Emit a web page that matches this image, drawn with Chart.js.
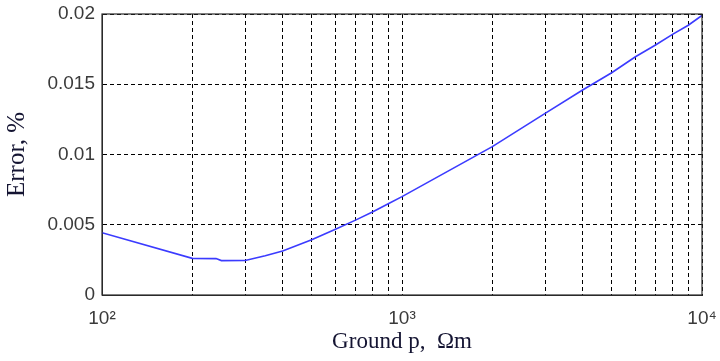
<!DOCTYPE html>
<html>
<head>
<meta charset="utf-8">
<script src="https://cdn.jsdelivr.net/npm/chart.js@4/dist/chart.umd.min.js"></script>
<style>
html,body{margin:0;padding:0;background:#fff;}
#wrap{width:720px;height:361px;position:relative;}
</style>
</head>
<body>
<div id="wrap"><canvas id="c" width="720" height="361"></canvas></div>
<script>
// Data
const groundResistivity = [100, 200, 240, 250, 300, 350, 400, 500, 600, 700, 800, 900, 1000, 2000, 3000, 4000, 5000, 6000, 7000, 8000, 9000, 10000];
const errorPercent      = [0.00443, 0.00261, 0.00259, 0.00245, 0.00246, 0.0028, 0.00313, 0.00393, 0.00468, 0.00533, 0.00593, 0.0065, 0.0070, 0.01056, 0.01293, 0.01459, 0.01582, 0.01696, 0.01779, 0.01857, 0.0192, 0.0199];
const xGridValues = [100,200,300,400,500,600,700,800,900,1000,2000,3000,4000,5000,6000,7000,8000,9000,10000];
const xTickLabels = {100: '10²', 1000: '10³', 10000: '10⁴'};
const yTickValues = [0, 0.005, 0.01, 0.015, 0.02];
const yTickLabels = ['0', '0.005', '0.01', '0.015', '0.02'];

const boxPlugin = {
  id: 'box',
  afterDraw(chart) {
    const a = chart.chartArea, ctx = chart.ctx;
    ctx.save();
    ctx.strokeStyle = '#2b2b2b';
    ctx.lineWidth = 1.2;
    ctx.strokeRect(a.left, a.top, a.right - a.left, a.bottom - a.top);
    ctx.restore();
  }
};

new Chart(document.getElementById('c'), {
  type: 'line',
  data: {
    datasets: [{
      data: groundResistivity.map((x, i) => ({x: x, y: errorPercent[i]})),
      borderColor: '#3b3bff',
      borderWidth: 1.6,
      pointRadius: 0,
      tension: 0,
      fill: false
    }]
  },
  options: {
    responsive: false,
    animation: false,
    layout: {padding: {top: 14, right: 18, left: 0, bottom: 0}},
    plugins: {legend: {display: false}, tooltip: {enabled: false}},
    scales: {
      x: {
        type: 'logarithmic',
        min: 100, max: 10000,
        afterBuildTicks(scale) { scale.ticks = xGridValues.map(v => ({value: v})); },
        afterFit(scale) { scale.height = 66; scale.paddingLeft = 0; scale.paddingRight = 0; },
        ticks: {
          autoSkip: false, maxRotation: 0,
          color: '#3a3a3a',
          font: {family: 'Liberation Sans', size: 19},
          padding: 12,
          callback: (v) => xTickLabels[v] || ''
        },
        grid: {color: '#000', lineWidth: 1, drawTicks: false},
        border: {display: true, color: '#2b2b2b', width: 1, dash: [4, 3]},
        title: {
          display: true, text: 'Ground p,  Ωm',
          color: '#141432',
          font: {family: 'Liberation Serif', size: 23},
          padding: {top: 0, bottom: 5}
        }
      },
      y: {
        min: 0, max: 0.02,
        afterBuildTicks(scale) { scale.ticks = yTickValues.map(v => ({value: v})); },
        afterFit(scale) { scale.width = 102; scale.paddingTop = 0; scale.paddingBottom = 0; },
        ticks: {
          color: '#3a3a3a',
          font: {family: 'Liberation Sans', size: 19},
          padding: 7,
          callback: (v) => { const i = yTickValues.indexOf(v); return i >= 0 ? yTickLabels[i] : ''; }
        },
        grid: {color: '#000', lineWidth: 1, drawTicks: false},
        border: {display: true, color: '#2b2b2b', width: 1, dash: [4, 3]},
        title: {
          display: true, text: 'Error, %',
          color: '#141432',
          font: {family: 'Liberation Serif', size: 25},
          padding: {top: 2, bottom: 2}
        }
      }
    }
  },
  plugins: [boxPlugin]
});
</script>
</body>
</html>
